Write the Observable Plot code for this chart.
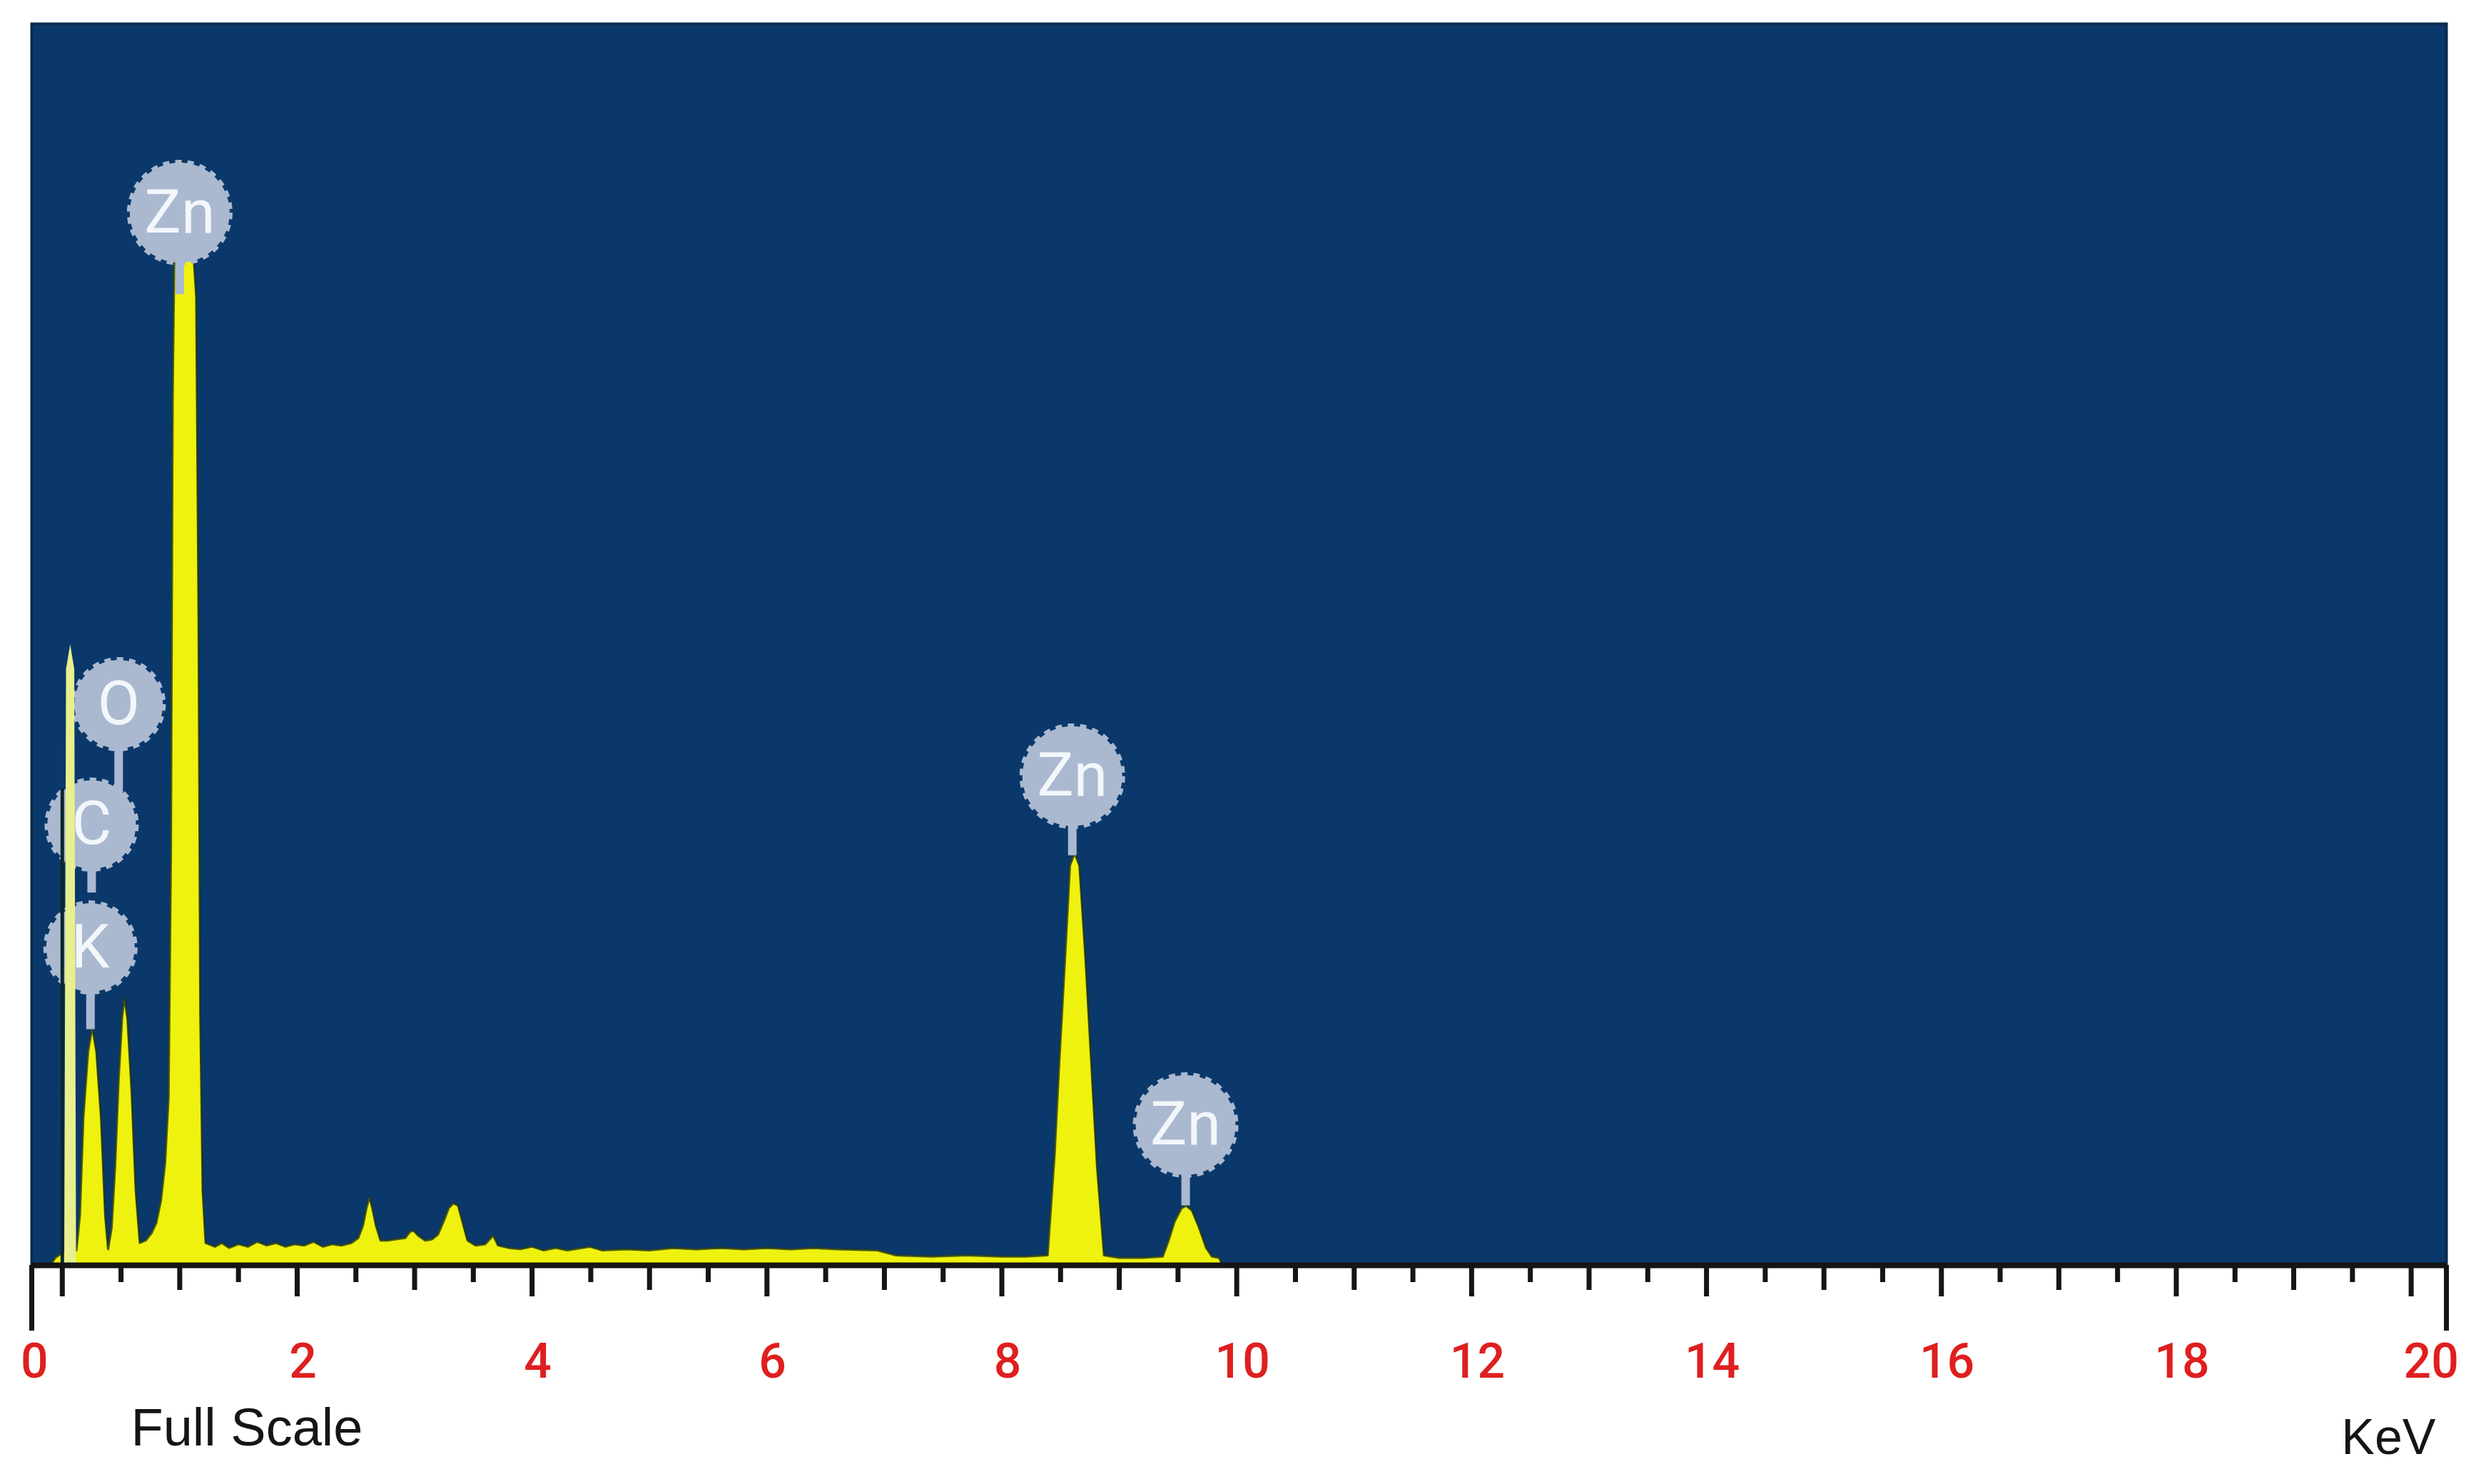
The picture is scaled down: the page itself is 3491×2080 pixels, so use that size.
<!DOCTYPE html>
<html>
<head>
<meta charset="utf-8">
<script src="https://cdn.jsdelivr.net/npm/d3@7"></script>
<script src="https://cdn.jsdelivr.net/npm/@observablehq/plot@0.6"></script>
<style>
  html, body { margin: 0; padding: 0; background: #ffffff; }
  #chart { width: 3491px; height: 2080px; }
</style>
</head>
<body>
<div id="chart"></div>
<script>
// ---- Spectrum (energy in keV, counts in arbitrary units; full scale = 1000) ----
const energyKeV = [
  -0.26, -0.10, -0.06, 0.00, 0.06, 0.12, 0.15, 0.18, 0.22, 0.255, 0.29, 0.33, 0.365, 0.39,
  0.42, 0.45, 0.48, 0.51, 0.53, 0.555, 0.59, 0.625, 0.66, 0.71, 0.76, 0.80, 0.84, 0.875,
  0.905, 0.925, 0.94, 0.955, 0.99, 1.02, 1.06, 1.10, 1.14, 1.16, 1.175, 1.195, 1.22,
  1.30, 1.36, 1.42, 1.50, 1.58, 1.66, 1.74, 1.82, 1.90, 1.98, 2.06, 2.14, 2.22, 2.30, 2.38,
  2.46, 2.52, 2.56, 2.59, 2.615, 2.64, 2.67, 2.71, 2.77, 2.84, 2.92, 2.96, 2.99, 3.03, 3.09,
  3.15, 3.20, 3.25, 3.29, 3.33, 3.37, 3.41, 3.45, 3.52, 3.60, 3.67, 3.71, 3.80, 3.90, 4.00,
  4.10, 4.20, 4.30, 4.49, 4.60, 4.80, 5.00, 5.20, 5.40, 5.60, 5.80, 6.00, 6.20, 6.40, 6.60,
  6.94, 7.10, 7.40, 7.70, 8.00, 8.20, 8.39, 8.45, 8.49, 8.54, 8.58, 8.62, 8.66, 8.71, 8.76,
  8.81, 8.87, 9.00, 9.20, 9.37, 9.42, 9.47, 9.53, 9.57, 9.62, 9.68, 9.74, 9.79, 9.85, 9.88, 20.3
];
const counts = [
  0, 0, 6, 10, 10, 12, 40, 120, 172, 192, 172, 118, 40, 13,
  30, 80, 150, 200, 216, 198, 140, 60, 18, 20, 26, 34, 52, 82,
  135, 330, 700, 820, 875, 890, 882, 840, 780, 520, 200, 60, 18,
  15, 18, 14, 17, 15, 19, 16, 18, 15, 17, 16, 19, 15, 17, 16,
  18, 22, 32, 46, 55, 46, 32, 20, 20, 21, 22, 27, 28, 24, 20,
  21, 25, 36, 46, 50, 48, 34, 20, 16, 17, 24, 16, 14, 13, 15,
  12, 14, 12, 15, 12, 13, 12, 14, 13, 14, 13, 14, 13, 14, 13,
  12, 8, 7, 8, 7, 7, 8, 90, 165, 250, 322, 332, 322, 250, 165,
  80, 8, 6, 6, 7, 20, 35, 46, 48, 44, 30, 14, 7, 6, 0, 0
];
// narrow noise (zero-energy) peak
const zeroPeakKeV = [0.02, 0.035, 0.07, 0.105, 0.12];
const zeroPeakCounts = [12, 480, 500, 480, 14];
// cursor marker at 0 keV
const cursorKeV = [0];
const cursorTopCounts = [384];

// ---- Element labels ----
const elementLabels = ["Zn", "O", "C", "K", "Zn", "Zn"];
const labelKeV = [1.00, 0.48, 0.25, 0.24, 8.60, 9.565];
const labelCounts = [848, 452, 355, 256, 394, 113];
const stemEndCounts = [782, 380, 300, 190, 330, 48];

// ---- Axis ----
const energyRange = [-0.26, 20.3];
const countRange = [0, 1000];
const majorTicks = [0, 2, 4, 6, 8, 10, 12, 14, 16, 18, 20];
const mediumTicks = [1, 3, 5, 7, 9, 11, 13, 15, 17, 19];
const minorTicks = [0.5, 1.5, 2.5, 3.5, 4.5, 5.5, 6.5, 7.5, 8.5, 9.5, 10.5, 11.5, 12.5, 13.5, 14.5, 15.5, 16.5, 17.5, 18.5, 19.5];
const tickLabels = ["0", "2", "4", "6", "8", "10", "12", "14", "16", "18", "20"];
const unitLabel = "KeV";
const scaleNote = "Full Scale";

// ---- Build tables ----
const spectrum = energyKeV.map((e, i) => ({e, c: counts[i]}));
const zeroPeak = zeroPeakKeV.map((e, i) => ({e, c: zeroPeakCounts[i]}));
const cursor = cursorKeV.map((e, i) => ({e, c: cursorTopCounts[i]}));
const labels = elementLabels.map((el, i) => ({el, e: labelKeV[i], c: labelCounts[i], s: stemEndCounts[i]}));
const labelOf = d => tickLabels[majorTicks.indexOf(d)];

const NAVY = "#0a386b";
const YELLOW = "#eef20e";
const BADGE = "#aab9d0";
const RED = "#df1f1f";
const INK = "#151515";
const labelFont = "Roboto, 'Liberation Sans', sans-serif";
const noteFont = "'Liberation Sans', Arial, sans-serif";

const chart = Plot.plot({
  width: 3491,
  height: 2080,
  marginLeft: 44,
  marginRight: 63,
  marginTop: 33,
  marginBottom: 307,
  style: {background: "#ffffff", fontFamily: noteFont},
  x: {domain: energyRange, label: null},
  y: {domain: countRange, axis: null, label: null},
  marks: [
    Plot.frame({fill: NAVY, stroke: "#0a2b50", strokeWidth: 4}),
    Plot.areaY(spectrum, {x: "e", y: "c", fill: YELLOW, curve: "linear"}),
    Plot.lineY(spectrum, {x: "e", y: "c", stroke: "#1f331c", strokeWidth: 3, strokeOpacity: 0.8}),
    Plot.ruleX(labels, {x: "e", y1: "s", y2: "c", stroke: BADGE, strokeWidth: 12}),
    Plot.dot(labels.filter(d => d.el === "Zn"), {x: "e", y: "c", r: 70, fill: BADGE, stroke: BADGE, strokeWidth: 8, strokeDasharray: "9 8"}),
    Plot.dot(labels.filter(d => d.el !== "Zn"), {x: "e", y: "c", r: 62, fill: BADGE, stroke: BADGE, strokeWidth: 8, strokeDasharray: "9 8"}),
    Plot.areaY(zeroPeak, {x: "e", y: "c", fill: "#e8f08e", curve: "linear"}),
    Plot.ruleX(cursor, {x: "e", y1: 0, y2: "c", stroke: "#0c2630", strokeWidth: 5}),
    Plot.text(labels, {x: "e", y: "c", text: "el", fill: "#f3f6fb", fontSize: 86, fontFamily: labelFont, lineAnchor: "middle"}),
    Plot.ruleY([0], {stroke: INK, strokeWidth: 8}),
    Plot.axisX(majorTicks, {tickSize: 44, stroke: INK, strokeWidth: 7, fill: "none"}),
    Plot.axisX(mediumTicks, {tickSize: 35, stroke: INK, strokeWidth: 7, fill: "none"}),
    Plot.axisX(minorTicks, {tickSize: 24, stroke: INK, strokeWidth: 7, fill: "none"}),
    Plot.axisX(energyRange, {tickSize: 92, stroke: INK, strokeWidth: 7, fill: "none"}),
    Plot.axisX(majorTicks.slice(1, -1), {tickSize: 0, tickPadding: 109, fill: RED, fontSize: 68, fontFamily: labelFont, fontWeight: 500, tickFormat: labelOf, dx: 8}),
    Plot.axisX(majorTicks.slice(0, 1), {tickSize: 0, tickPadding: 109, fill: RED, fontSize: 68, fontFamily: labelFont, fontWeight: 500, tickFormat: labelOf, dx: -39}),
    Plot.axisX(majorTicks.slice(-1), {tickSize: 0, tickPadding: 109, fill: RED, fontSize: 68, fontFamily: labelFont, fontWeight: 500, tickFormat: labelOf, dx: 28}),
    Plot.text([scaleNote], {text: d => d, frameAnchor: "bottom-left", textAnchor: "start", lineAnchor: "middle", dx: 139, dy: 229, fontSize: 74, fill: INK, fontFamily: noteFont}),
    Plot.text([unitLabel], {text: d => d, frameAnchor: "bottom-right", textAnchor: "end", lineAnchor: "middle", dx: -15, dy: 242, fontSize: 70, fill: INK, fontFamily: noteFont})
  ]
});
document.getElementById("chart").appendChild(chart);
</script>
</body>
</html>
